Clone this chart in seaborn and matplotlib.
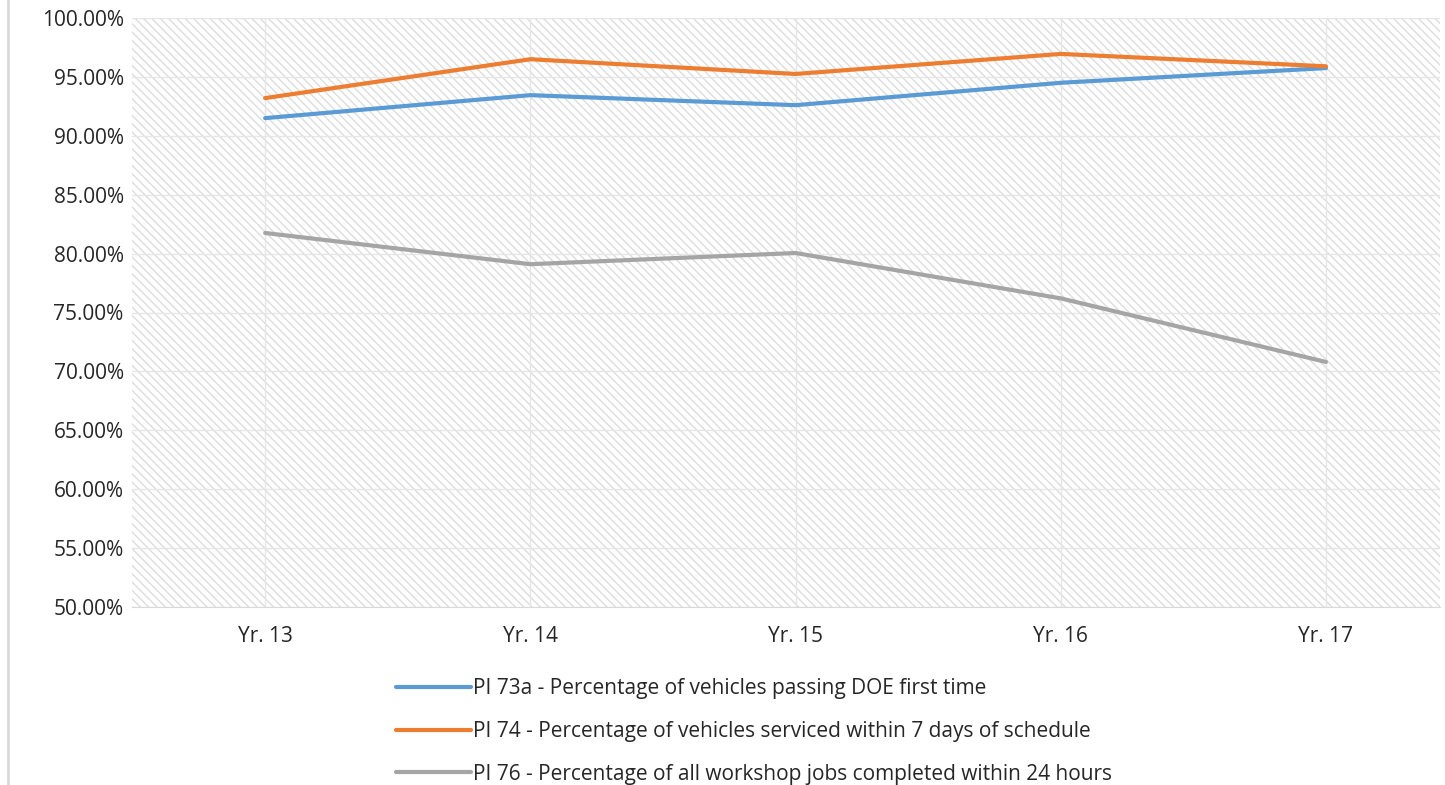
import matplotlib
matplotlib.use("Agg")
import matplotlib.pyplot as plt
from matplotlib.lines import Line2D
from matplotlib.ticker import PercentFormatter
import seaborn as sns
import pandas as pd

YEARS = ["Yr. 13", "Yr. 14", "Yr. 15", "Yr. 16", "Yr. 17"]
SERIES = [
    "PI 73a - Percentage of vehicles passing DOE first time",
    "PI 74 - Percentage of vehicles serviced within 7 days of schedule",
    "PI 76 - Percentage of all workshop jobs completed within 24 hours",
]
PI_73A = [91.5, 93.45, 92.6, 94.5, 95.75]
PI_74 = [93.2, 96.5, 95.25, 96.95, 95.9]
PI_76 = [81.75, 79.1, 80.05, 76.2, 70.8]
COLORS = ["#5b9bd5", "#ed7d31", "#a5a5a5"]

rows = []
for name, vals in zip(SERIES, [PI_73A, PI_74, PI_76]):
    for i, v in enumerate(vals):
        rows.append({"pos": i, "year": YEARS[i], "series": name, "value": v})
df = pd.DataFrame(rows)

sns.set_style("white")
plt.rcParams["font.family"] = ["Open Sans", "DejaVu Sans"]
plt.rcParams["hatch.color"] = "#dcdcdc"
plt.rcParams["hatch.linewidth"] = 1.0

fig = plt.figure(figsize=(14.45, 7.85), dpi=100)
ax = fig.add_axes([132 / 1445, 1 - 607 / 785, (1440 - 132) / 1445, (607 - 18) / 785])

ax.patch.set_facecolor("white")
ax.patch.set_hatch("\\\\\\\\")
ax.patch.set_edgecolor("#dcdcdc")

sns.lineplot(data=df, x="pos", y="value", hue="series", palette=COLORS,
             linewidth=3, ax=ax, legend=False, zorder=3)

ax.set_xlim(-0.502, 4.43)
ax.set_ylim(50, 100)
ax.set_yticks(range(50, 101, 5))
ax.yaxis.set_major_formatter(PercentFormatter(decimals=2))
ax.set_xticks(range(len(YEARS)))
ax.set_xticklabels(YEARS)
ax.grid(True, color="#e6e6e6", linewidth=1)
ax.set_axisbelow(True)
ax.set_xlabel("")
ax.set_ylabel("")
for side in ["top", "right", "left"]:
    ax.spines[side].set_visible(False)
ax.spines["bottom"].set_color("#d9d9d9")
ax.tick_params(axis="both", length=0, labelsize=15, colors="#262626")
ax.tick_params(axis="x", pad=14)
ax.tick_params(axis="y", pad=6)

handles = [Line2D([0], [0], color=c, linewidth=3) for c in COLORS]
fig.legend(handles, SERIES, loc="upper left", bbox_to_anchor=(388 / 1445, 1 - 670 / 785),
           frameon=False, fontsize=15, handlelength=3.6, handletextpad=0.1,
           labelspacing=1.04, labelcolor="#262626", borderaxespad=0)

fig.add_artist(Line2D([8 / 1445, 8 / 1445], [0, 1], color="#d9d9d9", linewidth=2))

fig.savefig("out.png", dpi=100)
